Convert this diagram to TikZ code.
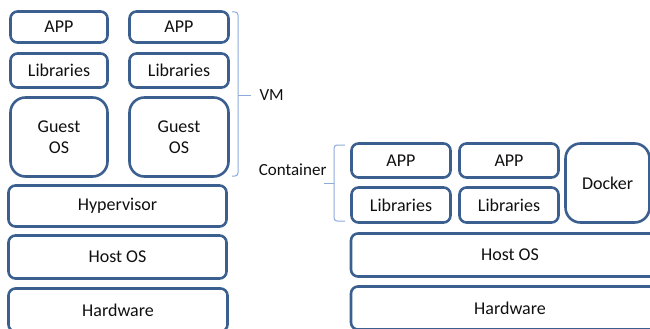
\documentclass[tikz,border=0pt]{standalone}
\usepackage{fontspec}
\setmainfont{Carlito}
\definecolor{boxBlue}{HTML}{3B5F8E}
\definecolor{braceBlue}{HTML}{8EAADB}
\definecolor{textGray}{HTML}{101010}

\begin{document}
\begin{tikzpicture}
[x=1pt,y=-1pt,
  layerDecorate/.style={shape=rectangle,draw=boxBlue,line width=2.6pt,
    rounded corners=7pt,align=center,text=textGray,font=\fontsize{18}{21}\selectfont},
  bigDecorate/.style={layerDecorate,rounded corners=15pt},
  braceDecorate/.style={draw=braceBlue,line width=1pt,rounded corners=3pt},
  labelDecorate/.style={text=textGray,font=\fontsize{17}{19}\selectfont}]
\useasboundingbox (0,0) rectangle (650,329);
%% layers of the two stacks
\foreach \nodename/\x/\y/\w/\h/\txt in {
  app1/59/27/97/31/APP,
  app2/179/27/99/31/APP,
  lib1/59/70.5/97/34/Libraries,
  lib2/179/70.5/99/34/Libraries,
  hyper/117.5/206/218/41/Hypervisor,
  host1/117.5/257/218/43/Host OS,
  hw1/118/310/219/43/Hardware,
  app3/401/160.5/99/34/APP,
  app4/509/160.5/99/34/APP,
  lib3/401/205/99/35/Libraries,
  lib4/509/205/99/35/Libraries,
  host2/510/255/318/43/Host OS,
  hw2/510/308/318/43/Hardware}
{
  \node (\nodename) at (\x,\y) [layerDecorate,minimum width=\w pt,minimum height=\h pt] {\txt};
}
\foreach \nodename/\x/\y/\w/\h/\txt in {
  guest1/59/137/97/79/{Guest\\OS},
  guest2/179/137/99/79/{Guest\\OS},
  docker/607.5/183/84/79/Docker}
{
  \node (\nodename) at (\x,\y) [bigDecorate,minimum width=\w pt,minimum height=\h pt] {\txt};
}
%% braces and their labels
\draw[braceDecorate] (232,12) -- (238,12) -- (238,95) -- (238,176) -- (232,176);
\draw[braceDecorate] (238,95) -- (251,95);
\node (vm) at (256,95) [labelDecorate,anchor=west] {VM};
\draw[braceDecorate] (345,145) -- (334,145) -- (334,183) -- (334,221) -- (345,221);
\draw[braceDecorate] (334,183) -- (324,183);
\node (container) at (330,170) [labelDecorate,anchor=east] {Container};
\end{tikzpicture}
\end{document}
